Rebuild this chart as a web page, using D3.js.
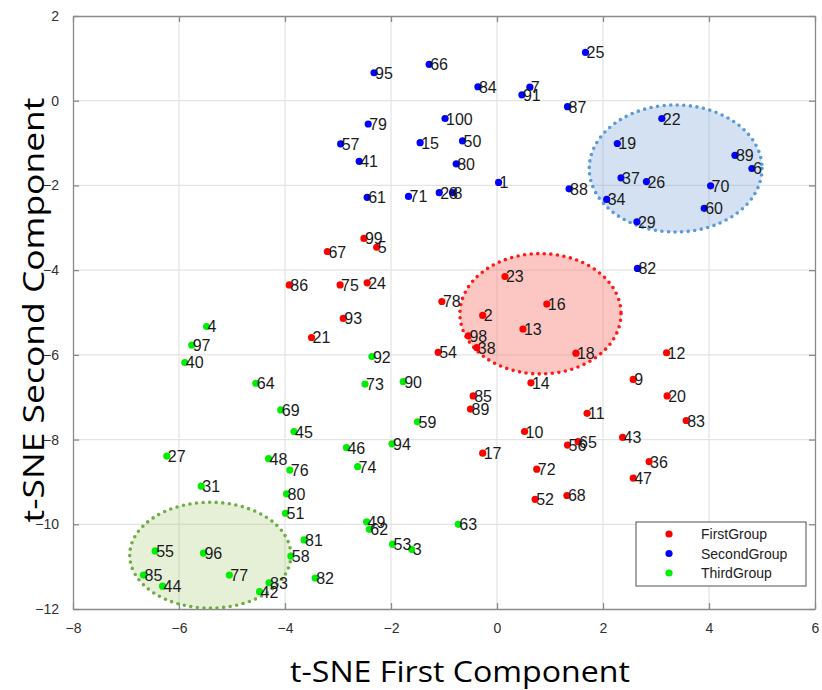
<!DOCTYPE html>
<html>
<head>
<meta charset="utf-8">
<script src="https://cdn.jsdelivr.net/npm/d3@7"></script>
<style>
  body { margin: 0; background: #fff; }
  svg { display: block; }
</style>
</head>
<body>
<script>
// group 1 (red)
var firstLabels = ["99","5","67","86","75","24","93","21","78","23","16","2","13","98","38","54","18","12","14","9","20","85","89","11","83","10","56","65","43","17","36","72","47","52","68"];
var firstX = [-2.51,-2.27,-3.20,-3.92,-2.96,-2.45,-2.90,-3.50,-1.04,0.15,0.94,-0.27,0.49,-0.54,-0.38,-1.11,1.49,3.20,0.64,2.57,3.21,-0.45,-0.50,1.70,3.57,0.52,1.33,1.53,2.37,-0.27,2.87,0.75,2.57,0.72,1.32];
var firstY = [-3.25,-3.46,-3.56,-4.35,-4.35,-4.30,-5.14,-5.59,-4.74,-4.15,-4.80,-5.07,-5.39,-5.55,-5.83,-5.94,-5.96,-5.95,-6.66,-6.58,-6.97,-6.97,-7.28,-7.38,-7.55,-7.81,-8.13,-8.05,-7.95,-8.32,-8.52,-8.70,-8.91,-9.41,-9.32];

// group 2 (blue)
var secondLabels = ["95","66","84","7","91","25","87","100","79","57","41","15","50","80","1","28","8","61","71","88","19","22","89","6","37","26","70","34","60","29","82"];
var secondX = [-2.32,-1.28,-0.36,0.62,0.47,1.67,1.33,-0.98,-2.43,-2.95,-2.60,-1.45,-0.65,-0.77,0.03,-1.09,-0.84,-2.45,-1.67,1.36,2.27,3.11,4.49,4.81,2.34,2.82,4.03,2.07,3.91,2.64,2.65];
var secondY = [0.66,0.86,0.33,0.32,0.14,1.14,-0.14,-0.42,-0.55,-1.02,-1.43,-0.99,-0.95,-1.49,-1.93,-2.17,-2.17,-2.28,-2.26,-2.08,-1.01,-0.42,-1.29,-1.60,-1.82,-1.91,-2.01,-2.33,-2.54,-2.86,-3.96];

// group 3 (green)
var thirdLabels = ["4","97","40","92","64","73","90","69","59","45","94","46","27","48","76","74","31","80","51","49","62","81","53","3","55","96","58","85","77","82","83","44","42","63"];
var thirdX = [-5.48,-5.76,-5.89,-2.36,-4.55,-2.49,-1.77,-4.08,-1.50,-3.83,-1.98,-2.84,-6.23,-4.31,-3.91,-2.63,-5.58,-3.97,-3.99,-2.46,-2.41,-3.64,-1.97,-1.61,-6.45,-5.54,-3.89,-6.67,-5.05,-3.43,-4.30,-6.31,-4.48,-0.73];
var thirdY = [-5.33,-5.77,-6.18,-6.04,-6.67,-6.69,-6.63,-7.30,-7.58,-7.81,-8.10,-8.19,-8.39,-8.45,-8.72,-8.64,-9.10,-9.28,-9.74,-9.94,-10.12,-10.37,-10.47,-10.59,-10.63,-10.68,-10.75,-11.20,-11.20,-11.27,-11.38,-11.46,-11.59,-10.00];

var groupNames = ["FirstGroup", "SecondGroup", "ThirdGroup"];
var xTicks = [-8, -6, -4, -2, 0, 2, 4, 6];
var yTicks = [-12, -10, -8, -6, -4, -2, 0, 2];

// highlighted clusters: centre x, centre y, radius x, radius y (data units)
var clusterCx = [0.82, 3.37, -5.41];
var clusterCy = [-5.03, -1.60, -10.73];
var clusterRx = [1.52, 1.63, 1.52];
var clusterRy = [1.42, 1.50, 1.25];

var dotColors = ["#ff0000", "#0000ff", "#00ee00"];
var fillColors = ["rgba(248,120,110,0.42)", "rgba(120,165,220,0.33)", "rgba(160,200,110,0.28)"];
var strokeColors = ["#ff1a1a", "#5b9bd5", "#70ad47"];

var W = 822, H = 690;
var x = d3.scaleLinear().domain([-8, 6]).range([73, 815]);
var y = d3.scaleLinear().domain([-12, 2]).range([609, 16]);

var svg = d3.select("body").append("svg")
    .attr("width", W)
    .attr("height", H);

// grid
svg.append("g").selectAll("line.gx")
    .data(xTicks.slice(1, -1))
    .enter().append("line")
    .attr("x1", function (d) { return x(d); })
    .attr("x2", function (d) { return x(d); })
    .attr("y1", y(2)).attr("y2", y(-12))
    .attr("stroke", "#e3e3e3").attr("stroke-width", 1.2);
svg.append("g").selectAll("line.gy")
    .data(yTicks.slice(1, -1))
    .enter().append("line")
    .attr("y1", function (d) { return y(d); })
    .attr("y2", function (d) { return y(d); })
    .attr("x1", x(-8)).attr("x2", x(6))
    .attr("stroke", "#e3e3e3").attr("stroke-width", 1.2);

// axes, MATLAB style ticks inside
function styleAxis(g) {
    g.select(".domain").attr("stroke", "#8a8a8a").attr("stroke-width", 1.3);
    g.selectAll(".tick line").attr("stroke", "#8a8a8a").attr("stroke-width", 1.3);
    g.selectAll(".tick text")
        .attr("font-family", "Liberation Sans, Arial, sans-serif")
        .attr("font-size", 14)
        .attr("fill", "#303030");
}
svg.append("g")
    .attr("transform", "translate(0," + y(-12) + ")")
    .call(d3.axisBottom(x).tickValues(xTicks).tickSizeInner(-6).tickSizeOuter(0).tickPadding(14))
    .call(styleAxis);
svg.append("g")
    .attr("transform", "translate(" + x(-8) + ",0)")
    .call(d3.axisLeft(y).tickValues(yTicks).tickSizeInner(-6).tickSizeOuter(0).tickPadding(14))
    .call(styleAxis);
svg.append("g")
    .attr("transform", "translate(0," + y(2) + ")")
    .call(d3.axisTop(x).tickValues(xTicks).tickSizeInner(-6).tickSizeOuter(0).tickFormat(""))
    .call(styleAxis);
svg.append("g")
    .attr("transform", "translate(" + x(6) + ",0)")
    .call(d3.axisRight(y).tickValues(yTicks).tickSizeInner(-6).tickSizeOuter(0).tickFormat(""))
    .call(styleAxis);

// cluster ellipses
svg.append("g").selectAll("ellipse")
    .data(clusterCx)
    .enter().append("ellipse")
    .attr("cx", function (d) { return x(d); })
    .attr("cy", function (d, i) { return y(clusterCy[i]); })
    .attr("rx", function (d, i) { return x(clusterRx[i]) - x(0); })
    .attr("ry", function (d, i) { return y(0) - y(clusterRy[i]); })
    .attr("fill", function (d, i) { return fillColors[i]; })
    .attr("stroke", function (d, i) { return strokeColors[i]; })
    .attr("stroke-width", 3.6)
    .attr("stroke-linecap", "round")
    .attr("stroke-dasharray", "0 6.6");

// points
var groups = [
    { labels: firstLabels, xs: firstX, ys: firstY },
    { labels: secondLabels, xs: secondX, ys: secondY },
    { labels: thirdLabels, xs: thirdX, ys: thirdY }
];
groups.forEach(function (grp, gi) {
    var pts = grp.labels.map(function (l, i) {
        return { label: l, x: grp.xs[i], y: grp.ys[i] };
    });
    var g = svg.append("g");
    g.selectAll("circle")
        .data(pts)
        .enter().append("circle")
        .attr("cx", function (d) { return x(d.x); })
        .attr("cy", function (d) { return y(d.y); })
        .attr("r", 3.6)
        .attr("fill", dotColors[gi]);
    g.selectAll("text")
        .data(pts)
        .enter().append("text")
        .attr("x", function (d) { return x(d.x) + 1; })
        .attr("y", function (d) { return y(d.y) + 6; })
        .attr("font-family", "Liberation Sans, Arial, sans-serif")
        .attr("font-size", 16)
        .attr("fill", "#1a1a1a")
        .text(function (d) { return d.label; });
});

// legend
var legend = svg.append("g").attr("transform", "translate(636,522)");
legend.append("rect")
    .attr("width", 170).attr("height", 64)
    .attr("fill", "#fff").attr("stroke", "#6e6e6e").attr("stroke-width", 1.2);
groupNames.forEach(function (name, i) {
    legend.append("circle")
        .attr("cx", 33).attr("cy", 12 + i * 19.5)
        .attr("r", 3.6).attr("fill", dotColors[i]);
    legend.append("text")
        .attr("x", 65).attr("y", 17 + i * 19.5)
        .attr("font-family", "Liberation Sans, Arial, sans-serif")
        .attr("font-size", 14)
        .attr("fill", "#222")
        .text(name);
});

// axis titles
svg.append("text")
    .attr("x", 460).attr("y", 682)
    .attr("text-anchor", "middle")
    .attr("font-family", "Open Sans, Noto Sans, sans-serif")
    .attr("font-size", 29)
    .attr("textLength", 340).attr("lengthAdjust", "spacingAndGlyphs")
    .attr("fill", "#000")
    .text("t-SNE First Component");
svg.append("text")
    .attr("transform", "translate(44,310) rotate(-90)")
    .attr("text-anchor", "middle")
    .attr("font-family", "Open Sans, Noto Sans, sans-serif")
    .attr("font-size", 30)
    .attr("textLength", 425).attr("lengthAdjust", "spacingAndGlyphs")
    .attr("fill", "#000")
    .text("t-SNE Second Component");
</script>
</body>
</html>
